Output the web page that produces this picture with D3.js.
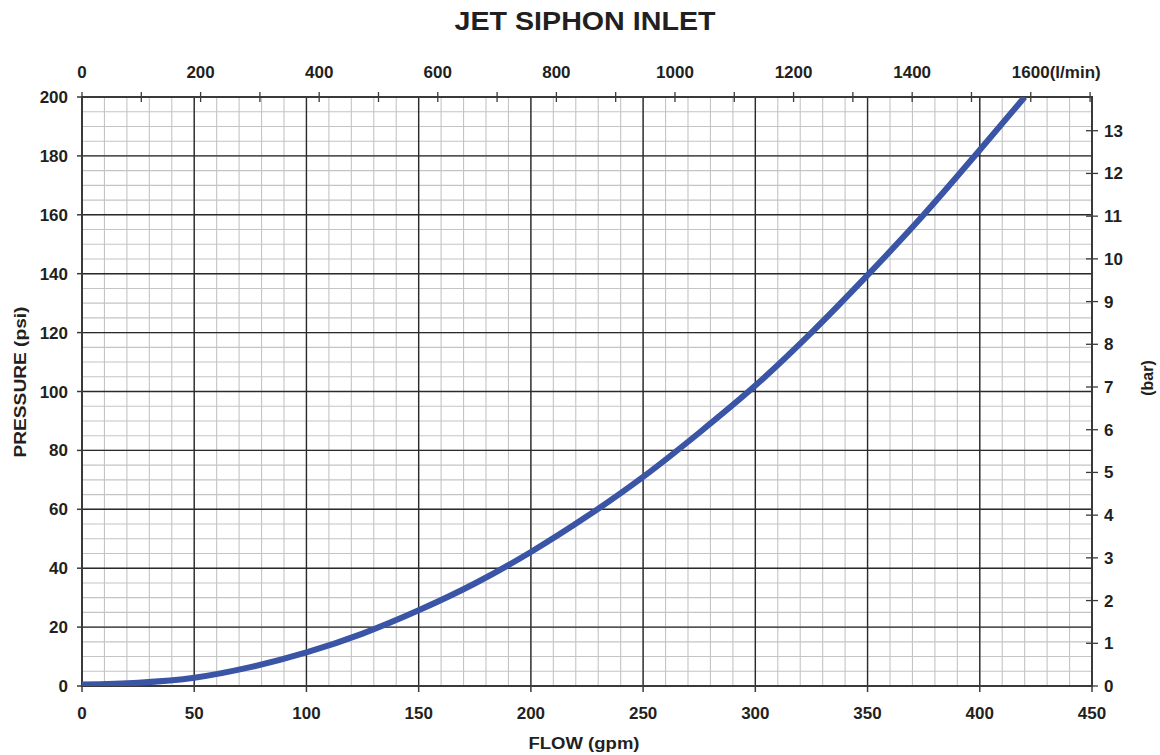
<!DOCTYPE html>
<html><head><meta charset="utf-8">
<script src="https://cdn.jsdelivr.net/npm/d3@7"></script>
<style>body{margin:0;background:#fff}svg{display:block}text{font-family:"Liberation Sans",Arial,sans-serif;font-weight:bold;fill:#231f20}</style>
</head><body>
<svg id="c" width="1160" height="755"></svg>
<script>
// ---- data ----
const flowGpm = [0, 25, 50, 75, 100, 125, 150, 175, 200, 225, 250, 275, 300, 325, 350, 375, 400, 420];
const pressurePsi = [0.5, 1.1, 2.8, 6.4, 11.4, 17.8, 25.7, 34.8, 45.5, 57.6, 71, 86, 102, 120, 139.5, 160, 182, 200];
const gpmTicks = [0, 50, 100, 150, 200, 250, 300, 350, 400, 450];
const psiTicks = [0, 20, 40, 60, 80, 100, 120, 140, 160, 180, 200];
const lpmTicks = [0, 200, 400, 600, 800, 1000, 1200, 1400, 1600];
const lpmMinorTicks = [0, 100, 200, 300, 400, 500, 600, 700, 800, 900, 1000, 1100, 1200, 1300, 1400, 1500, 1600, 1700];
const barTicks = [0, 1, 2, 3, 4, 5, 6, 7, 8, 9, 10, 11, 12, 13];
const titleText = "JET SIPHON INLET";
const xTitle = "FLOW (gpm)";
const yTitle = "PRESSURE (psi)";
const y2Title = "(bar)";
const LPM_PER_GPM = 3.785;
const PSI_PER_BAR = 14.5038;

const svg = d3.select("#c");
const L = 82, R = 1092, T = 97, B = 686;
const x = d3.scaleLinear([0, 450], [L, R]);
const y = d3.scaleLinear([0, 200], [B, T]);
const xl = d3.scaleLinear([0, 450 * LPM_PER_GPM], [L, R]);
const yb = d3.scaleLinear([0, 200 / PSI_PER_BAR], [B, T]);

const g = svg.append("g");
// minor grid
g.selectAll(".vmin").data(d3.range(0, 451, 10)).join("line")
  .attr("x1", d => x(d)).attr("x2", d => x(d)).attr("y1", T).attr("y2", B)
  .attr("stroke", "#c4c4c4").attr("stroke-width", 1.1);
g.selectAll(".hmin").data(d3.range(0, 201, 5)).join("line")
  .attr("y1", d => y(d)).attr("y2", d => y(d)).attr("x1", L).attr("x2", R)
  .attr("stroke", "#c4c4c4").attr("stroke-width", 1.1);
// major grid
g.selectAll(".vmaj").data(gpmTicks).join("line")
  .attr("x1", d => x(d)).attr("x2", d => x(d)).attr("y1", T).attr("y2", B)
  .attr("stroke", "#2a2a2a").attr("stroke-width", 1.4);
g.selectAll(".hmaj").data(psiTicks).join("line")
  .attr("y1", d => y(d)).attr("y2", d => y(d)).attr("x1", L).attr("x2", R)
  .attr("stroke", "#2a2a2a").attr("stroke-width", 1.4);

// frame
g.append("rect").attr("x", L).attr("y", T).attr("width", R - L).attr("height", B - T)
  .attr("fill", "none").attr("stroke", "#3a3a3a").attr("stroke-width", 2);

// curve
svg.append("clipPath").attr("id", "clip").append("rect")
  .attr("x", L).attr("y", T).attr("width", R - L).attr("height", B - T);
const line = d3.line().x((d, i) => x(flowGpm[i])).y(d => y(d)).curve(d3.curveMonotoneX);
svg.append("path").datum(pressurePsi).attr("d", line)
  .attr("clip-path", "url(#clip)")
  .attr("fill", "none").attr("stroke", "#3a54a6").attr("stroke-width", 6);

const fs = 17;
// bottom axis
const bx = svg.append("g");
bx.selectAll("line").data(gpmTicks).join("line")
  .attr("x1", d => x(d)).attr("x2", d => x(d)).attr("y1", B).attr("y2", B + 6)
  .attr("stroke", "#3a3a3a").attr("stroke-width", 1.5);
bx.selectAll("text").data(gpmTicks).join("text")
  .attr("x", d => x(d)).attr("y", 719).attr("text-anchor", "middle")
  .style("font-size", fs + "px").text(d => d);

// left axis
const ly = svg.append("g");
ly.selectAll("line").data(psiTicks).join("line")
  .attr("y1", d => y(d)).attr("y2", d => y(d)).attr("x1", L - 5).attr("x2", L)
  .attr("stroke", "#3a3a3a").attr("stroke-width", 1.5);
ly.selectAll("text").data(psiTicks).join("text")
  .attr("x", 68).attr("y", d => y(d) + 6).attr("text-anchor", "end")
  .style("font-size", fs + "px").text(d => d);

// top axis (l/min)
const tx = svg.append("g");
tx.selectAll("line").data(lpmMinorTicks).join("line")
  .attr("x1", d => xl(d)).attr("x2", d => xl(d)).attr("y1", T - 5).attr("y2", T + 5)
  .attr("stroke", "#3a3a3a").attr("stroke-width", 1.3);
tx.selectAll("text").data(lpmTicks).join("text")
  .attr("x", d => xl(d)).attr("y", 78).attr("text-anchor", "middle")
  .style("font-size", fs + "px").text(d => d);
// unit suffix after last label
const lastLbl = tx.selectAll("text").filter(d => d === lpmTicks[lpmTicks.length - 1]);
const lw = lastLbl.node().getComputedTextLength();
tx.append("text").attr("x", xl(lpmTicks[lpmTicks.length - 1]) + lw / 2).attr("y", 78)
  .attr("text-anchor", "start").style("font-size", fs + "px").text("(l/min)");

// right axis (bar)
const ry = svg.append("g");
ry.selectAll("line").data(barTicks).join("line")
  .attr("y1", d => yb(d)).attr("y2", d => yb(d)).attr("x1", R - 6).attr("x2", R + 6)
  .attr("stroke", "#3a3a3a").attr("stroke-width", 1.3);
ry.selectAll("text").data(barTicks).join("text")
  .attr("x", 1104).attr("y", d => yb(d) + 6).attr("text-anchor", "start")
  .style("font-size", fs + "px").text(d => d);

// titles
svg.append("text").attr("x", 585).attr("y", 30).attr("text-anchor", "middle")
  .attr("textLength", 261).attr("lengthAdjust", "spacingAndGlyphs")
  .style("font-size", "25.5px").text(titleText);
svg.append("text").attr("x", 584).attr("y", 749).attr("text-anchor", "middle")
  .attr("textLength", 111).attr("lengthAdjust", "spacingAndGlyphs")
  .style("font-size", "16px").text(xTitle);
svg.append("text").attr("transform", "translate(26,382) rotate(-90)").attr("text-anchor", "middle")
  .attr("textLength", 151).attr("lengthAdjust", "spacingAndGlyphs")
  .style("font-size", "16px").text(yTitle);
svg.append("text").attr("transform", "translate(1153,378) rotate(-90)").attr("text-anchor", "middle")
  .style("font-size", "16px").text(y2Title);
</script>
</body></html>
